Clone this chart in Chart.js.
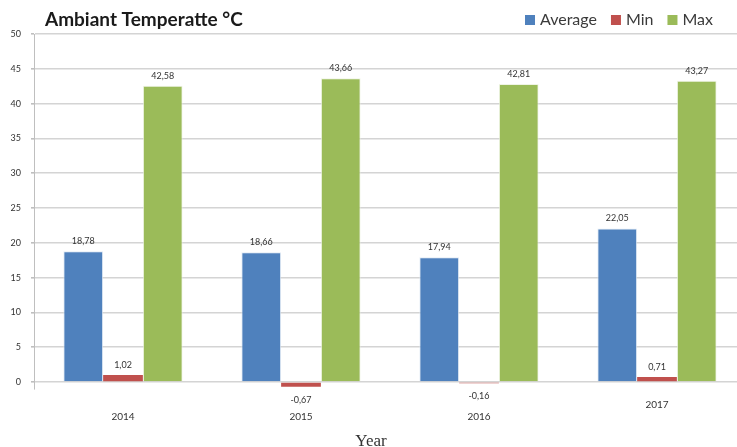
<!DOCTYPE html>
<html>
<head>
<meta charset="utf-8">
<script src="https://cdn.jsdelivr.net/npm/chart.js@4.4.1/dist/chart.umd.min.js"></script>
<style>
  html, body { margin: 0; padding: 0; background: #fff; overflow: hidden; }
  #wrap { width: 737px; height: 447px; overflow: hidden; position: relative; }
  #box { width: 746px; height: 447px; position: absolute; left: 0; top: 0; }
</style>
</head>
<body>
<div id="wrap"><div id="box"><canvas id="c"></canvas></div></div>
<script>
// Yearly ambient temperature summary (°C)
const years = ['2014', '2015', '2016', '2017'];
const averageTemp = [18.78, 18.66, 17.94, 22.05];
const minTemp = [1.02, -0.67, -0.16, 0.71];
const maxTemp = [42.58, 43.66, 42.81, 43.27];
const yTicks = [0, 5, 10, 15, 20, 25, 30, 35, 40, 45, 50];

const chartTitle = 'Ambiant Temperatte °C';
const axisTitle = 'Year';

const colors = { Average: '#4F81BD', Min: '#C0504D', Max: '#9BBB59' };

const fmt = v => v.toFixed(2).replace('.', ',');

// Title, legend, axis title and value labels
const decor = {
  id: 'decor',
  afterDatasetsDraw(chart) {
    const ctx = chart.ctx;
    ctx.save();
    // value labels
    ctx.font = '9px Lato, "Open Sans", sans-serif';
    ctx.fillStyle = '#333';
    ctx.textAlign = 'center';
    ctx.textBaseline = 'middle';
    chart.data.datasets.forEach((ds, i) => {
      chart.getDatasetMeta(i).data.forEach((bar, j) => {
        const v = ds.data[j];
        const y = v >= 0 ? bar.y - 10 : bar.y + 13;
        ctx.fillText(fmt(v), bar.x, y);
      });
    });
    ctx.restore();
  },
  afterDraw(chart) {
    const ctx = chart.ctx;
    ctx.save();
    // chart title
    ctx.font = 'bold 19px Lato, "Open Sans", sans-serif';
    ctx.fillStyle = '#1a1a1a';
    ctx.textAlign = 'left';
    ctx.textBaseline = 'middle';
    ctx.fillText(chartTitle, 45, 20);
    // legend
    ctx.font = '16px Lato, "Open Sans", sans-serif';
    let x = 525;
    chart.data.datasets.forEach(ds => {
      ctx.fillStyle = ds.backgroundColor;
      ctx.fillRect(x, 15, 10, 10);
      ctx.fillStyle = '#3a3a3a';
      ctx.fillText(ds.label, x + 15, 20);
      x += 15 + ctx.measureText(ds.label).width + 14;
    });
    // x axis title
    ctx.font = '17px "Liberation Serif", "Times New Roman", serif';
    ctx.fillStyle = '#333';
    ctx.textAlign = 'center';
    ctx.textBaseline = 'middle';
    ctx.fillText(axisTitle, 371, 442);
    ctx.restore();
  }
};

new Chart(document.getElementById('c'), {
  type: 'bar',
  data: {
    labels: years,
    datasets: [
      { label: 'Average', data: averageTemp, backgroundColor: colors.Average, borderColor: 'rgba(220,230,242,0.8)', borderWidth: 1 },
      { label: 'Min', data: minTemp, backgroundColor: colors.Min, borderWidth: 0 },
      { label: 'Max', data: maxTemp, backgroundColor: colors.Max, borderColor: 'rgba(235,241,222,0.8)', borderWidth: 1 }
    ]
  },
  options: {
    responsive: true,
    maintainAspectRatio: false,
    animation: false,
    layout: { padding: { top: 34, right: 0, bottom: 0, left: 0 } },
    datasets: { bar: { barPercentage: 1, categoryPercentage: 0.67 } },
    plugins: { legend: { display: false }, title: { display: false }, tooltip: { enabled: false } },
    scales: {
      x: {
        grid: { display: false, drawTicks: false },
        border: { display: false },
        ticks: {
          padding: 10,
          font: { size: 10, family: 'Lato, "Open Sans", sans-serif', lineHeight: 1.2 },
          color: '#333',
          callback: (v, i) => (i === 3 ? years[i] : ['', years[i]])
        },
        afterFit: s => { s.height = 58; }
      },
      y: {
        min: -1,
        max: 50,
        afterBuildTicks: s => { s.ticks = yTicks.map(v => ({ value: v })); },
        grid: { color: '#d4d4d4', lineWidth: 1.6, tickLength: 3, tickColor: '#bfbfbf' },
        border: { display: true, color: '#bfbfbf', width: 1 },
        ticks: {
          padding: 10,
          font: { size: 9, family: 'Lato, "Open Sans", sans-serif' },
          color: '#333'
        },
        afterFit: s => { s.width = 34; }
      }
    }
  },
  plugins: [decor]
});
</script>
</body>
</html>
